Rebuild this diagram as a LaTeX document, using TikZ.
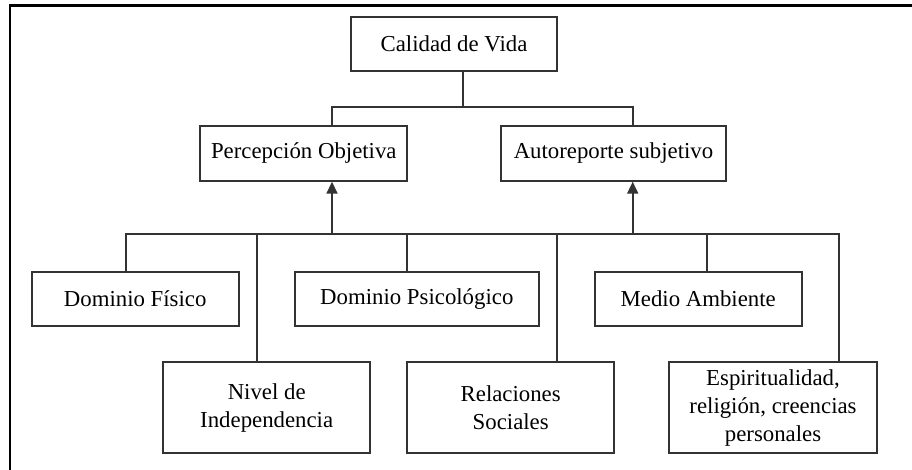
\documentclass[tikz,border=0pt]{standalone}
\usepackage{fontspec}
\setmainfont{Liberation Serif}
\usetikzlibrary{arrows.meta}
\begin{document}
\begin{tikzpicture}[x=1pt,y=-1pt,
  box/.style={draw=black!80,line width=1.8pt,align=center,inner sep=0pt,
    font=\fontsize{22.8}{28}\selectfont,text=black},
  sbox/.style={box,minimum height=54.6pt},
  tbox/.style={box,minimum height=91pt},
  conn/.style={draw=black!80,line width=1.8pt},
  arr/.style={conn,-{Triangle[length=12pt,width=11pt]}}]
\useasboundingbox (0,0) rectangle (912,470);
\fill[white] (0,0) rectangle (912,470);
\draw[line width=2.8pt] (10,470) -- (10,5.3) -- (912,5.3);
% nodes
\node[sbox,minimum width=206pt] (cal) at (454,44) {Calidad de Vida};
\node[sbox,minimum width=207pt] (perc) at (303.8,153.5) {Percepción Objetiva};
\node[sbox,minimum width=225.6pt] (ar) at (613.5,153.5) {Autoreporte subjetivo};
\node[sbox,minimum width=207pt] (df) at (135.2,299) {Dominio Físico};
\node[sbox,minimum width=244.3pt] (dp) at (416.8,299) {Dominio Psicológico};
\node[sbox,minimum width=207pt] (ma) at (698.2,299) {Medio Ambiente};
\node[tbox,minimum width=206.7pt] (ni) at (266.7,407.8) {Nivel de\\Independencia};
\node[tbox,minimum width=206.7pt] (rs) at (510.7,407.8) {Relaciones\\Sociales};
\node[tbox,minimum width=207.4pt] (es) at (773,407.8) {Espiritualidad,\\religión, creencias\\personales};
% junctions
\coordinate (top) at (463.3,107.3);
\coordinate (pl) at (332,107.3);
\coordinate (pr) at (632.7,107.3);
\coordinate (bl) at (125.7,234.3);
\coordinate (b1) at (257,234.3);
\coordinate (a1) at (332,234.3);
\coordinate (b2) at (407.3,234.3);
\coordinate (b3) at (557.3,234.3);
\coordinate (a2) at (632.7,234.3);
\coordinate (b4) at (707.3,234.3);
\coordinate (br) at (838.7,234.3);
% connectors
\draw[conn] (cal.south -| top) -- (top);
\draw[conn] (perc.north -| pl) -- (pl) -- (pr) -- (ar.north -| pr);
\draw[conn] (df.north -| bl) -- (bl) -- (br) -- (es.north -| br);
\draw[conn] (b1) -- (ni.north -| b1);
\draw[conn] (b2) -- (dp.north -| b2);
\draw[conn] (b3) -- (rs.north -| b3);
\draw[conn] (b4) -- (ma.north -| b4);
\draw[arr] (a1) -- (perc.south -| a1);
\draw[arr] (a2) -- (ar.south -| a2);
\end{tikzpicture}
\end{document}
